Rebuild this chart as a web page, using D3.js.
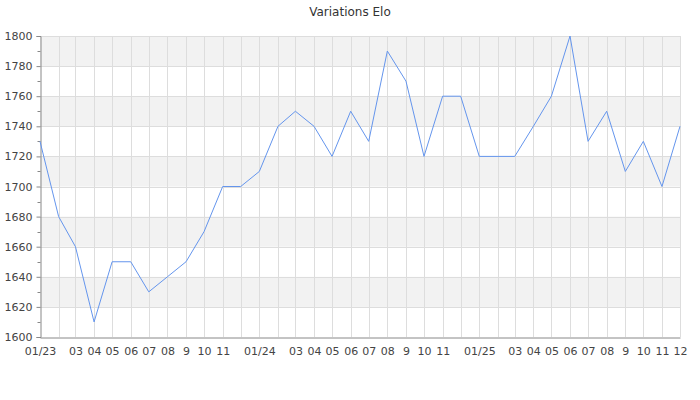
<!DOCTYPE html>
<html>
<head>
<meta charset="utf-8">
<script src="https://cdn.jsdelivr.net/npm/d3@7"></script>
<style>
    body { margin: 0; background: #fff; }
    text { font-family: "DejaVu Sans", sans-serif; }
</style>
</head>
<body>
<svg id="chart"></svg>
<script>
const width = 700, height = 400;
const margin = { top: 36, right: 20, bottom: 63, left: 40 };

// one point per month, jan 2023 -> dec 2025
const months = d3.timeMonths(new Date(2023, 0, 1), new Date(2025, 11, 2));
const elo = [
    1730, 1680, 1660, 1610, 1650, 1650, 1630, 1640, 1650, 1670, 1700, 1700,
    1710, 1740, 1750, 1740, 1720, 1750, 1730, 1790, 1770, 1720, 1760, 1760,
    1720, 1720, 1720, 1740, 1760, 1800, 1730, 1750, 1710, 1730, 1700, 1740
];
const tickLabels = [
    "01/23", "", "03", "04", "05", "06", "07", "08", "9", "10", "11", "",
    "01/24", "", "03", "04", "05", "06", "07", "08", "9", "10", "11", "",
    "01/25", "", "03", "04", "05", "06", "07", "08", "9", "10", "11", "12"
];
const yTicks = d3.range(1600, 1801, 20);
const yMinor = d3.range(1610, 1800, 20);

const svg = d3.select("#chart")
    .attr("width", width)
    .attr("height", height);

const x = d3.scaleTime()
    .domain(d3.extent(months))
    .range([margin.left, width - margin.right]);

const y = d3.scaleLinear()
    .domain([1600, 1800])
    .range([height - margin.bottom, margin.top]);

// alternating bands
svg.append("g")
    .selectAll("rect")
    .data(yTicks.slice(0, -1).filter((d, i) => i % 2 === 1))
    .join("rect")
    .attr("x", margin.left)
    .attr("width", width - margin.right - margin.left)
    .attr("y", d => y(d + 20))
    .attr("height", d => y(d) - y(d + 20))
    .attr("fill", "#f2f2f2");

// grid
svg.append("g")
    .selectAll("line")
    .data(yTicks.slice(1))
    .join("line")
    .attr("x1", margin.left)
    .attr("x2", width - margin.right)
    .attr("y1", d => Math.round(y(d)) + 0.5)
    .attr("y2", d => Math.round(y(d)) + 0.5)
    .attr("stroke", "#dddddd");

svg.append("g")
    .selectAll("line")
    .data(months.slice(1))
    .join("line")
    .attr("x1", d => Math.round(x(d)) + 0.5)
    .attr("x2", d => Math.round(x(d)) + 0.5)
    .attr("y1", margin.top)
    .attr("y2", height - margin.bottom)
    .attr("stroke", "#dddddd");

// y axis
const yAxis = svg.append("g")
    .attr("transform", `translate(${margin.left + 0.5},0)`)
    .call(d3.axisLeft(y).tickValues(yTicks).tickSize(4).tickPadding(4).tickFormat(d3.format("d")));

svg.append("g")
    .attr("transform", `translate(${margin.left + 0.5},0)`)
    .selectAll("line")
    .data(yMinor)
    .join("line")
    .attr("x1", -3)
    .attr("x2", 0)
    .attr("y1", d => Math.round(y(d)) + 0.5)
    .attr("y2", d => Math.round(y(d)) + 0.5)
    .attr("stroke", "#888");

// x axis
const xAxis = svg.append("g")
    .attr("transform", `translate(0,${height - margin.bottom + 0.5})`)
    .call(d3.axisBottom(x)
        .tickValues(months)
        .tickSize(0)
        .tickPadding(10)
        .tickFormat((d, i) => tickLabels[i]));

xAxis.select(".domain").attr("stroke", "#888");
yAxis.select(".domain").attr("stroke", "#888");
yAxis.selectAll(".tick line").attr("stroke", "#888");
svg.selectAll(".tick text")
    .attr("fill", "#444")
    .style("font-size", "11px")
    .style("font-family", "DejaVu Sans, sans-serif");

// line
svg.append("path")
    .datum(elo)
    .attr("fill", "none")
    .attr("stroke", "#6495ed")
    .attr("stroke-width", 1)
    .attr("d", d3.line()
        .x((d, i) => x(months[i]))
        .y(d => y(d)));

svg.append("text")
    .attr("x", width / 2)
    .attr("y", 16)
    .attr("text-anchor", "middle")
    .attr("fill", "#333")
    .style("font-size", "12px")
    .text("Variations Elo");
</script>
</body>
</html>
